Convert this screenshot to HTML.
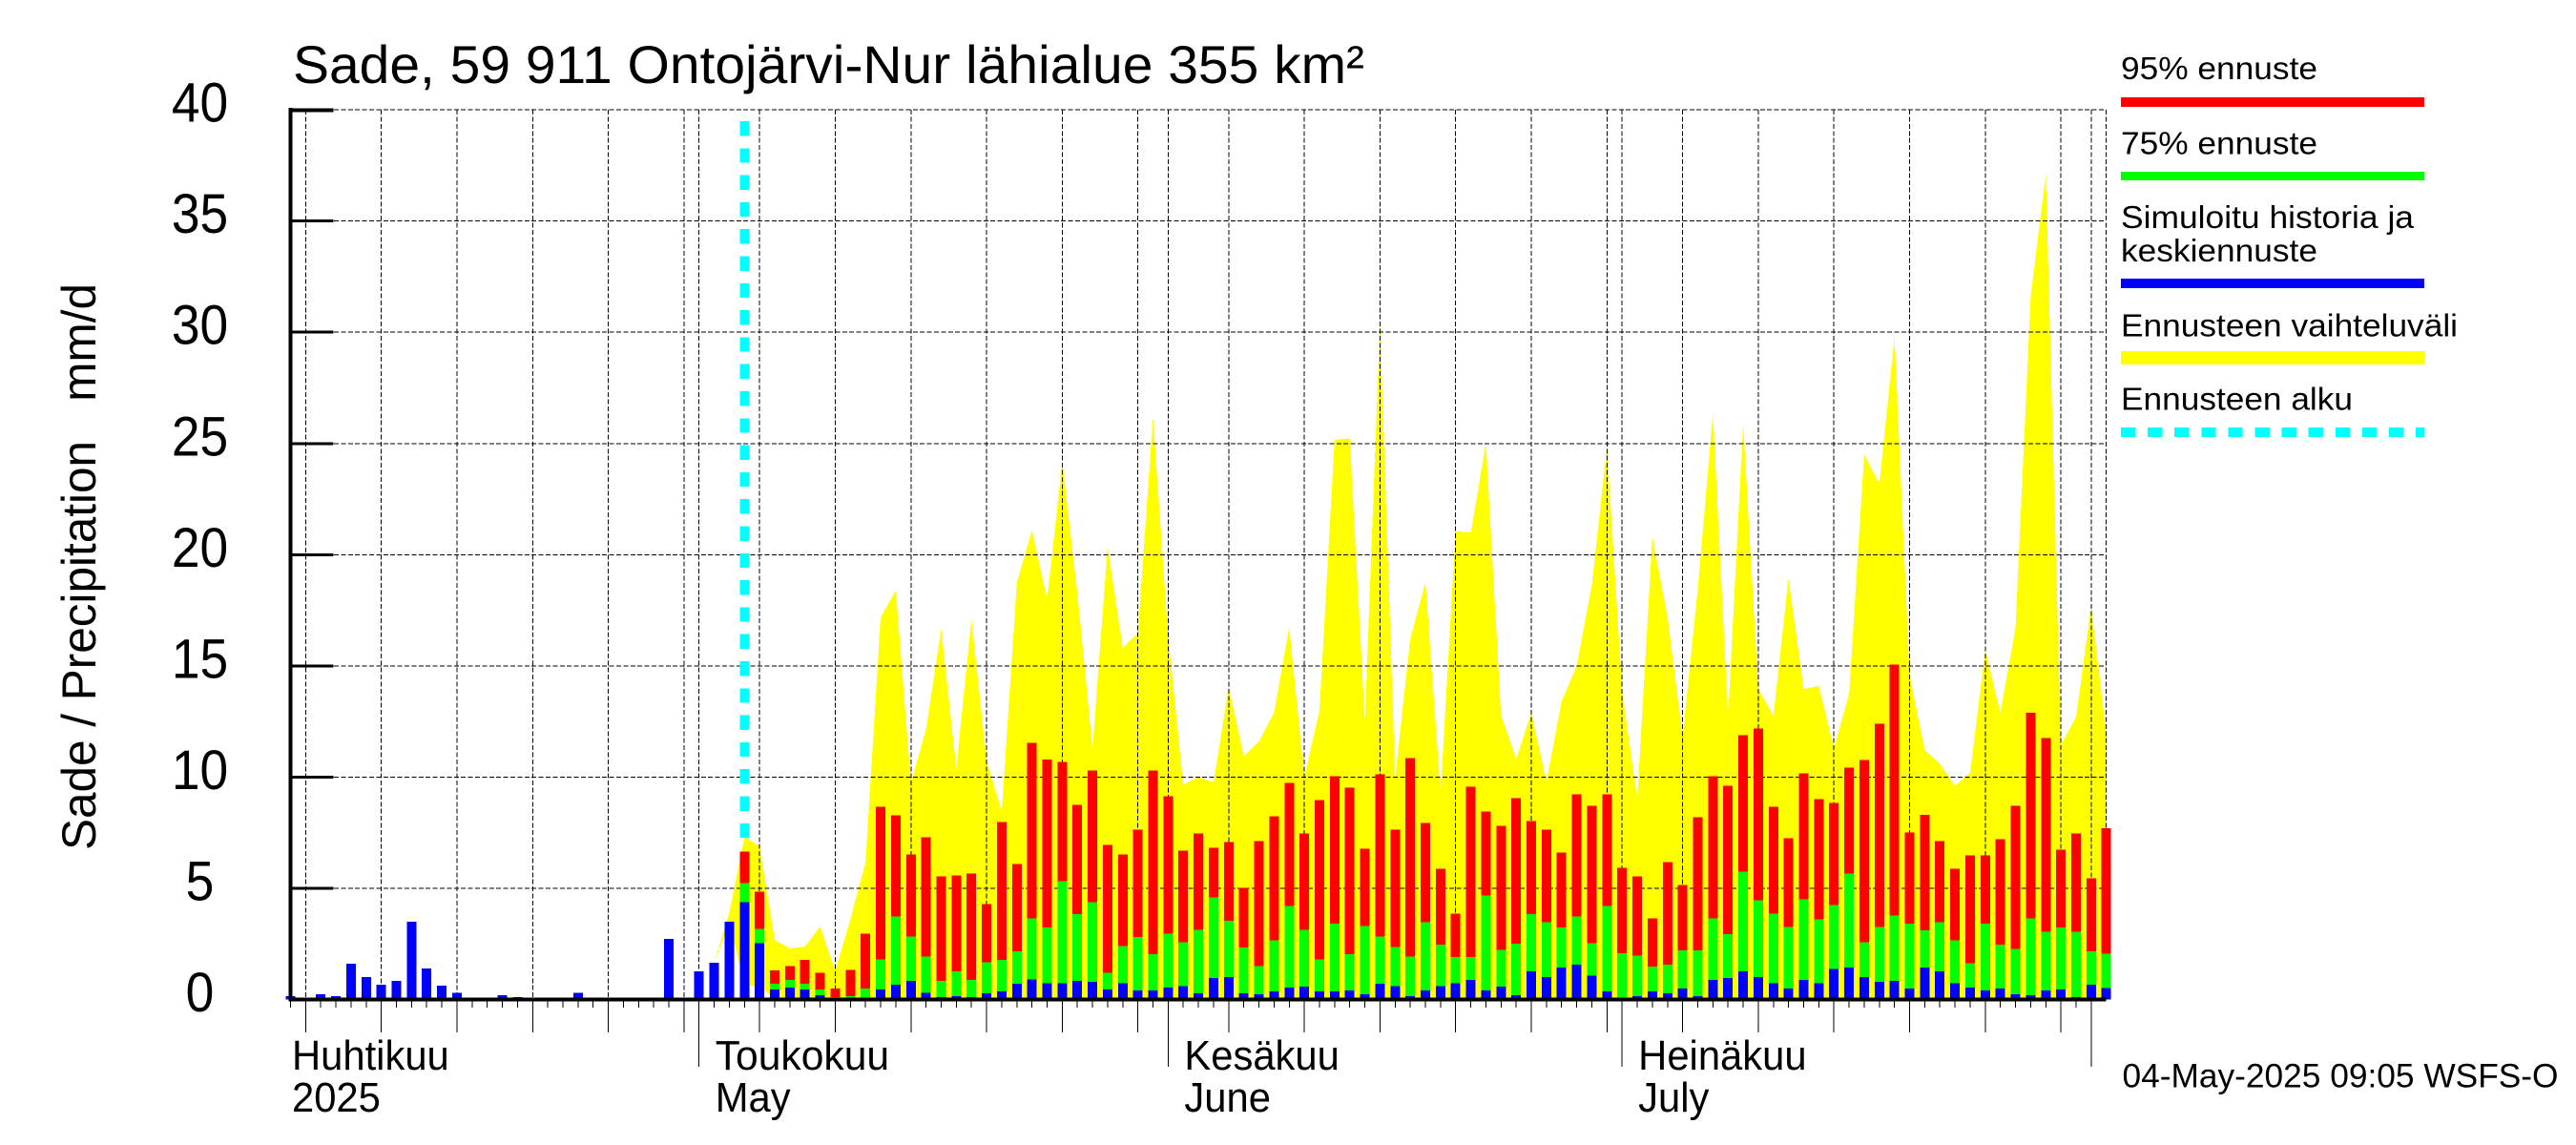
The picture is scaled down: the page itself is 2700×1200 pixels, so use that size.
<!DOCTYPE html>
<html lang="fi">
<head>
<meta charset="utf-8">
<title>Sade, 59 911 Ontojärvi-Nur lähialue 355 km²</title>
<style>
html,body{margin:0;padding:0;background:#fff;width:2700px;height:1200px;overflow:hidden}
svg{display:block}
text{font-family:"Liberation Sans",Arial,sans-serif;fill:#000;white-space:pre}
</style>
</head>
<body>
<svg id="chart" xmlns="http://www.w3.org/2000/svg" width="2700" height="1200" viewBox="0 0 2700 1200">
  <rect x="0" y="0" width="2700" height="1200" fill="#fff"/>
  <g id="envelope-layer"></g>
  <g id="grid-layer" shape-rendering="crispEdges"></g>
  <g id="start-layer" shape-rendering="crispEdges"></g>
  <g id="bar-layer" shape-rendering="crispEdges"></g>
  <g id="axis-layer" shape-rendering="crispEdges"></g>
  <g id="label-layer"></g>

  <text x="307" y="87" font-size="56" textLength="1123" lengthAdjust="spacingAndGlyphs">Sade, 59 911 Ontojärvi-Nur lähialue 355 km²</text>
  <text transform="translate(100,891) rotate(-90)" font-size="50" textLength="594" lengthAdjust="spacingAndGlyphs">Sade / Precipitation   mm/d</text>

  <g>
    <text x="2223" y="83" font-size="33" textLength="206" lengthAdjust="spacingAndGlyphs">95% ennuste</text>
    <rect x="2223" y="102" width="318" height="10" fill="#ff0000"/>
    <text x="2223" y="161.5" font-size="33" textLength="206" lengthAdjust="spacingAndGlyphs">75% ennuste</text>
    <rect x="2223" y="180" width="318" height="9" fill="#00ff00"/>
    <text x="2223" y="239" font-size="33" textLength="307" lengthAdjust="spacingAndGlyphs">Simuloitu historia ja</text>
    <text x="2223" y="274" font-size="33" textLength="206" lengthAdjust="spacingAndGlyphs">keskiennuste</text>
    <rect x="2223" y="292" width="318" height="10" fill="#0000ff"/>
    <text x="2223" y="352.5" font-size="33" textLength="353" lengthAdjust="spacingAndGlyphs">Ennusteen vaihteluväli</text>
    <rect x="2223" y="368" width="318" height="14" fill="#ffff00"/>
    <text x="2223" y="429.5" font-size="33" textLength="243" lengthAdjust="spacingAndGlyphs">Ennusteen alku</text>
    <line x1="2223" y1="453" x2="2541" y2="453" stroke="#00ffff" stroke-width="10" stroke-dasharray="15.3 12.8" shape-rendering="crispEdges"/>
  </g>

  <text x="2224.5" y="1139.5" font-size="35" textLength="457" lengthAdjust="spacingAndGlyphs">04-May-2025 09:05 WSFS-O</text>
</svg>

<script>
// Chart data, in mm/d. Each daily series starts on 4 April 2025.
const blueValues = [0.16,0.03,0.24,0.16,1.61,1.01,0.67,0.84,3.5,1.4,
  0.63,0.29,0,0,0.2,0.11,0,0,0,0.29,
  0.04,0.03,0,0,0.03,2.73,0,1.27,1.66,3.5,
  4.38,2.54,0.44,0.53,0.44,0.19,0.03,0.01,0.02,0.44,
  0.66,0.83,0.31,0.1,0.14,0.1,0.27,0.36,0.7,0.91,
  0.74,0.74,0.83,0.79,0.44,0.74,0.4,0.4,0.53,0.61,
  0.27,0.96,1,0.27,0.23,0.36,0.53,0.57,0.36,0.36,
  0.4,0.23,0.7,0.61,0.14,0.4,0.61,0.74,0.87,0.4,
  0.57,0.19,1.26,1,1.43,1.56,1.08,0.36,0.06,0.14,
  0.36,0.27,0.49,0.14,0.87,0.96,1.26,1,0.74,0.49,
  0.87,0.74,1.38,1.43,1,0.79,0.83,0.49,1.43,1.26,
  0.74,0.53,0.4,0.49,0.23,0.19,0.4,0.44,0.1,0.66,0.52];

const forecastStartDay = 30;

const greenValues = [5.24,3.18,0.7,0.87,0.7,0.44,0.1,0.14,0.49,1.81,
  3.74,2.84,1.94,0.83,1.26,0.87,1.68,1.77,2.16,3.65,
  3.23,5.32,3.83,4.38,1.21,2.41,2.8,2.03,2.97,2.58,
  3.14,4.6,3.53,2.33,1.51,2.67,4.21,3.14,1.81,3.4,
  2.03,3.31,2.84,2.37,1.94,3.48,2.46,1.9,1.9,4.68,
  2.24,2.5,3.83,3.48,3.23,3.74,2.54,4.21,2.07,1.98,
  1.47,1.56,2.2,2.2,3.65,2.93,5.75,4.47,3.87,3.27,
  4.51,3.61,4.25,5.67,2.58,3.27,3.78,3.4,3.1,3.48,
  2.67,1.64,3.4,2.46,2.28,3.65,3.05,3.23,3.05,2.16,2.06];

const redValues = [6.65,4.85,1.3,1.51,1.77,1.21,0.49,1.34,2.97,8.67,
  8.28,6.52,7.29,5.54,5.58,5.67,4.3,7.98,6.1,11.53,
  10.8,10.68,8.75,10.29,6.95,6.52,7.64,10.29,9.14,6.7,
  7.47,6.82,7.08,5.03,7.12,8.24,9.74,7.47,8.97,10.04,
  9.52,6.78,10.12,7.64,10.85,7.94,5.88,3.87,9.56,8.45,
  7.81,9.05,8.02,7.64,6.61,9.22,8.71,9.22,5.92,5.54,
  3.65,6.18,5.15,8.19,10.04,9.61,11.88,12.18,8.67,7.25,
  10.16,9.01,8.84,10.42,10.76,12.39,15.05,7.51,8.31,7.12,
  5.88,6.48,6.48,7.21,8.71,12.9,11.75,6.74,7.47,5.45,7.69];

const rangeStartDay = 28;

const rangeUpper = [1.67,3.9,7.3,6.9,2.67,2.3,2.38,3.28,1.3,3.6,6.17,17.17,
  18.4,9.73,12.16,16.67,10.38,17.1,10.74,8.45,18.74,21.1,
  18.0,24.16,18.3,11.3,20.38,15.8,16.5,26.2,16.3,9.67,
  10.0,9.76,14.05,10.95,11.6,12.9,16.74,10.0,13.0,25.16,
  25.23,12.5,30.44,10.0,16.2,18.76,9.3,21.05,21.0,25.0,
  12.8,10.8,12.9,9.8,13.4,15.0,18.66,24.87,13.9,9.0,
  20.8,17.2,11.8,18.45,26.33,12.74,25.9,13.95,12.77,18.95,
  13.95,14.1,11.3,13.74,24.5,23.2,29.76,14.6,11.2,10.6,
  9.6,10.2,15.7,12.9,16.7,31.6,37.1,11.46,12.7,17.69,11.95];

// Lower edge of the range for its first days; it stays at zero after these.
const rangeLower = [1.65,3.48,0.63,0.63];

const yTickValues = [0,5,10,15,20,25,30,35,40];
const yTickLabels = ["0","5","10","15","20","25","30","35","40"];

// Day numbers counted from 4 April 2025.
const fiveDayTicks = [1,6,11,16,21,26,31,36,41,46,51,56,62,67,72,77,82,87,92,97,102,107,112,117];
const monthTicks = [27,58,88,119];
const lastDay = 120;

const monthLabelDays = [0,27,58,88];
const monthLabelsFi = ["Huhtikuu","Toukokuu","Kesäkuu","Heinäkuu"];
const monthLabelsEn = ["2025","May","June","July"];

// Axis functions
function xDay(d){ return 304.5 + d * 15.86; }
function yVal(v){ return 1047.5 - v * 23.31; }

const NS = "http://www.w3.org/2000/svg";
function make(parent, tag, attrs){
  const el = document.createElementNS(NS, tag);
  for (const k in attrs) el.setAttribute(k, attrs[k]);
  parent.appendChild(el);
  return el;
}

const envelopeLayer = document.getElementById("envelope-layer");
const gridLayer = document.getElementById("grid-layer");
const startLayer = document.getElementById("start-layer");
const barLayer = document.getElementById("bar-layer");
const axisLayer = document.getElementById("axis-layer");
const labelLayer = document.getElementById("label-layer");

// Yellow forecast range
(function(){
  const pts = [];
  rangeUpper.forEach(function(v, i){
    pts.push(xDay(rangeStartDay + i).toFixed(1) + "," + yVal(v).toFixed(1));
  });
  for (let i = rangeUpper.length - 1; i >= 0; i--){
    const lo = i < rangeLower.length ? rangeLower[i] : 0;
    pts.push(xDay(rangeStartDay + i).toFixed(1) + "," + yVal(lo).toFixed(1));
  }
  const poly = make(envelopeLayer, "polygon", {points: pts.join(" "), fill: "#ffff00", "shape-rendering": "crispEdges"});
  
  
})();

// Grid
yTickValues.forEach(function(v){
  if (v === 0) return;
  const l = make(gridLayer, "line", {x1: 350, x2: xDay(lastDay), y1: yVal(v), y2: yVal(v), stroke: "#000", "stroke-width": 1, "stroke-dasharray": "5 2.4"});
  
  
});
fiveDayTicks.concat(monthTicks, [lastDay]).forEach(function(d){
  const l = make(gridLayer, "line", {x1: xDay(d), x2: xDay(d), y1: yVal(40), y2: yVal(0), stroke: "#000", "stroke-width": 1, "stroke-dasharray": "5 2.4"});
  
  
});

// Forecast start marker
(function(){
  const l = make(startLayer, "line", {x1: xDay(forecastStartDay), x2: xDay(forecastStartDay), y1: 127, y2: 878, stroke: "#00ffff", "stroke-width": 10, "stroke-dasharray": "15.3 13"});
  
  
})();

// Bars, drawn tallest first so they read as a stack
function drawBar(day, value, color){
  const top = yVal(value);
  return make(barLayer, "rect", {x: xDay(day) - 5, y: top, width: 10, height: yVal(0) - top, fill: color});
}
redValues.forEach(function(v, i){
  const r = drawBar(forecastStartDay + i, v, "#ff0000");
  
  
});
greenValues.forEach(function(v, i){
  const r = drawBar(forecastStartDay + i, v, "#00ff00");
  
  
});
blueValues.forEach(function(v, i){
  if (v <= 0) return;
  const r = drawBar(i, v, "#0000ff");
  
  
});

// Axes
(function(){
  const yAxis = make(axisLayer, "rect", {x: xDay(0) - 2, y: yVal(40) - 2, width: 4, height: yVal(0) - yVal(40) + 4, fill: "#000"});
  
  
  const xAxis = make(axisLayer, "rect", {x: xDay(0) - 2, y: yVal(0) - 2, width: xDay(lastDay) - xDay(0) + 2, height: 4, fill: "#000"});
  
  
})();
yTickValues.forEach(function(v){
  if (v === 0) return;
  const t = make(axisLayer, "rect", {x: xDay(0), y: yVal(v) - 1.5, width: 45, height: v === 40 ? 4 : 3, fill: "#000"});
  
  
});
for (let d = 0; d < lastDay; d++){
  const t = make(axisLayer, "line", {x1: xDay(d), x2: xDay(d), y1: yVal(0), y2: 1056, stroke: "#000", "stroke-width": 1});
  
  
}
fiveDayTicks.forEach(function(d){
  const t = make(axisLayer, "line", {x1: xDay(d), x2: xDay(d), y1: yVal(0), y2: 1082, stroke: "#000", "stroke-width": 1});
  
  
});
monthTicks.forEach(function(d){
  const t = make(axisLayer, "line", {x1: xDay(d), x2: xDay(d), y1: yVal(0), y2: 1118, stroke: "#000", "stroke-width": 1});
  
  
});

// Labels
function drawLabel(str, x, y, size, sx, anchor){
  const t = make(labelLayer, "text", {transform: "translate(" + x + "," + y + ") scale(" + sx + ",1)", "font-size": size, "text-anchor": anchor});
  t.textContent = str;
  return t;
}
yTickValues.forEach(function(v, i){
  const t = drawLabel(yTickLabels[i], 209.5, yVal(v) + 12.5, 58, 0.92, "middle");
  
  
});
monthLabelDays.forEach(function(d, i){
  const x = d === 0 ? xDay(0) + 1.5 : xDay(d) + 17;
  const fiScale = monthLabelsFi[i] === "Toukokuu" ? 0.98 : 0.96;
  const a = drawLabel(monthLabelsFi[i], x, 1121, 43.5, fiScale, "start");
  
  
  const b = drawLabel(monthLabelsEn[i], x, 1165, 43.5, 0.96, "start");
  
  
});
</script>
</body>
</html>
